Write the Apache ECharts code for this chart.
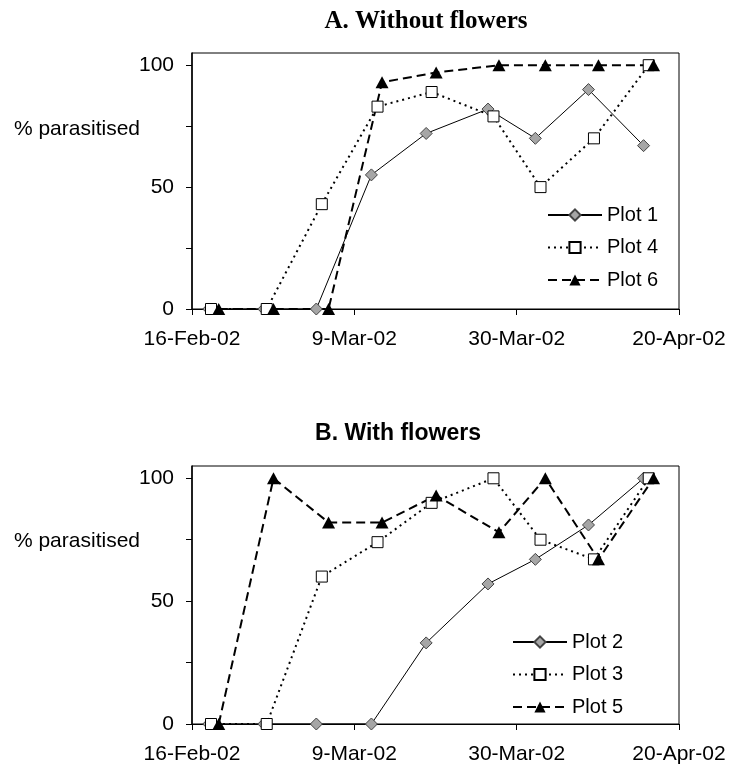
<!DOCTYPE html>
<html>
<head>
<meta charset="utf-8">
<script src="https://cdn.jsdelivr.net/npm/echarts@6/dist/echarts.min.js"></script>
<style>
    html, body { margin: 0; padding: 0; background: #fff; }
    #chart { width: 747px; height: 769px; }
</style>
</head>
<body>
<div id="chart"></div>
<script>
    // sampling dates (markers of each plot sit a little apart on the x axis)
    const datesPlots12 = ['2002-02-18 04:00', '2002-02-25 07:00', '2002-03-04 02:00', '2002-03-11 05:00', '2002-03-18 07:00', '2002-03-26 07:00', '2002-04-01 10:00', '2002-04-08 07:00', '2002-04-15 10:00'];
    const datesPlots34 = ['2002-02-18 11:00', '2002-02-25 16:00', '2002-03-04 19:00', '2002-03-12 00:00', '2002-03-19 00:00', '2002-03-27 00:00', '2002-04-02 02:00', '2002-04-09 00:00', '2002-04-16 02:00'];
    const datesPlots56 = ['2002-02-19 11:00', '2002-02-26 13:00', '2002-03-05 16:00', '2002-03-12 14:00', '2002-03-19 14:00', '2002-03-27 17:00', '2002-04-02 17:00', '2002-04-09 14:00', '2002-04-16 17:00'];

    // % parasitised
    const plot1 = [0, 0, 0, 55, 72, 82, 70, 90, 67];
    const plot4 = [0, 0, 43, 83, 89, 79, 50, 70, 100];
    const plot6 = [0, 0, 0, 93, 97, 100, 100, 100, 100];
    const plot2 = [0, 0, 0, 0, 33, 57, 67, 81, 100];
    const plot3 = [0, 0, 60, 74, 90, 100, 75, 67, 100];
    const plot5 = [0, 100, 82, 82, 93, 78, 100, 67, 100];

    const startDate = '2002-02-16 00:00';
    const xTickDays = [0, 21, 42, 63]; // 16-Feb, 9-Mar, 30-Mar, 20-Apr
    const yTickValues = [0, 25, 50, 75, 100];
    const yLabelValues = [0, 50, 100];
    const months = ['Jan', 'Feb', 'Mar', 'Apr', 'May', 'Jun', 'Jul', 'Aug', 'Sep', 'Oct', 'Nov', 'Dec'];

    function parseDate(s){
        let [d, t] = s.split(' ');
        let [y, m, day] = d.split('-').map(Number);
        let [h, mi] = t.split(':').map(Number);
        return Date.UTC(y, m - 1, day, h, mi);
    }
    const DAY = 86400000;
    const start = parseDate(startDate);
    function toDays(s){
        return (parseDate(s) - start) / DAY;
    }
    function dayLabel(v){
        let d = new Date(start + v * DAY);
        return d.getUTCDate() + '-' + months[d.getUTCMonth()] + '-' + String(d.getUTCFullYear()).slice(2);
    }
    function pairs(dates, vals){
        return dates.map((d, i) => [toDays(d), vals[i]]);
    }

    const font = 'Liberation Sans, Arial, sans-serif';
    const lineSolid = { color: '#000', width: 1, type: 'solid' };
    const lineDotted = { color: '#000', width: 2, type: [2, 4] };
    const lineDashed = { color: '#000', width: 2, type: [9, 5] };
    const diamondStyle = { color: '#a6a6a6', borderColor: '#444', borderWidth: 1 };
    const squareStyle = { color: '#fff', borderColor: '#000', borderWidth: 1 };
    const triangleStyle = { color: '#000', borderColor: '#000', borderWidth: 0 };

    function makeSeries(name, idx, dates, vals, symbol, size, itemStyle, lineStyle){
        return {
            name: name,
            type: 'line',
            xAxisIndex: idx,
            yAxisIndex: idx,
            data: pairs(dates, vals),
            symbol: symbol,
            symbolSize: size,
            showAllSymbol: true,
            itemStyle: itemStyle,
            lineStyle: lineStyle,
            emphasis: { disabled: true }
        };
    }

    function xAxisFor(idx){
        return {
            type: 'value',
            gridIndex: idx,
            min: 0,
            max: 63,
            interval: 21,
            axisLine: { show: true, onZero: false, lineStyle: { color: '#000', width: 1 } },
            axisTick: { show: true, length: 6, lineStyle: { color: '#000' }, customValues: xTickDays },
            axisLabel: { color: '#000', fontFamily: font, fontSize: 21, margin: 20, formatter: dayLabel, customValues: xTickDays },
            splitLine: { show: false }
        };
    }
    function yAxisFor(idx){
        return {
            type: 'value',
            gridIndex: idx,
            min: 0,
            max: 105,
            axisLine: { show: true, lineStyle: { color: '#000', width: 1.5 } },
            axisTick: { show: true, length: 6, lineStyle: { color: '#000' }, customValues: yTickValues },
            axisLabel: { color: '#000', fontFamily: font, fontSize: 21, margin: 18, customValues: yLabelValues },
            splitLine: { show: false }
        };
    }

    let chart = echarts.init(document.getElementById('chart'), null, { renderer: 'canvas' });
    let option = {
        animation: false,
        backgroundColor: '#fff',
        title: [
            { text: 'A. Without flowers', left: 426, top: 22, padding: 0, textAlign: 'center', textVerticalAlign: 'middle',
              textStyle: { fontFamily: 'Liberation Serif, Times New Roman, serif', fontWeight: 'bold', fontSize: 25, color: '#000' } },
            { text: 'B. With flowers', left: 398, top: 434, padding: 0, textAlign: 'center', textVerticalAlign: 'middle',
              textStyle: { fontFamily: font, fontWeight: 'bold', fontSize: 23, color: '#000' } },
            { text: '% parasitised', left: 140, top: 129, padding: 0, textAlign: 'right', textVerticalAlign: 'middle',
              textStyle: { fontFamily: font, fontWeight: 'normal', fontSize: 21, color: '#000' } },
            { text: '% parasitised', left: 140, top: 541, padding: 0, textAlign: 'right', textVerticalAlign: 'middle',
              textStyle: { fontFamily: font, fontWeight: 'normal', fontSize: 21, color: '#000' } }
        ],
        legend: [
            { data: ['Plot 1', 'Plot 4', 'Plot 6'], orient: 'vertical', left: 547, top: 205, padding: 0,
              itemWidth: 54, itemHeight: 14, itemGap: 12.5, selectedMode: false,
              textStyle: { fontFamily: font, fontSize: 20, color: '#000' } },
            { data: ['Plot 2', 'Plot 3', 'Plot 5'], orient: 'vertical', left: 512, top: 632, padding: 0,
              itemWidth: 54, itemHeight: 14, itemGap: 12.5, selectedMode: false,
              textStyle: { fontFamily: font, fontSize: 20, color: '#000' } }
        ],
        grid: [
            { left: 192, right: 68, top: 53, height: 256, show: true, borderColor: '#000', borderWidth: 1, backgroundColor: 'transparent' },
            { left: 192, right: 68, top: 466, height: 258, show: true, borderColor: '#000', borderWidth: 1, backgroundColor: 'transparent' }
        ],
        xAxis: [xAxisFor(0), xAxisFor(1)],
        yAxis: [yAxisFor(0), yAxisFor(1)],
        series: [
            makeSeries('Plot 1', 0, datesPlots12, plot1, 'diamond', 12, diamondStyle, lineSolid),
            makeSeries('Plot 4', 0, datesPlots34, plot4, 'rect', 11, squareStyle, lineDotted),
            makeSeries('Plot 6', 0, datesPlots56, plot6, 'triangle', [13, 12], triangleStyle, lineDashed),
            makeSeries('Plot 2', 1, datesPlots12, plot2, 'diamond', 12, diamondStyle, lineSolid),
            makeSeries('Plot 3', 1, datesPlots34, plot3, 'rect', 11, squareStyle, lineDotted),
            makeSeries('Plot 5', 1, datesPlots56, plot5, 'triangle', [13, 12], triangleStyle, lineDashed)
        ]
    };
    chart.setOption(option);
</script>
</body>
</html>
